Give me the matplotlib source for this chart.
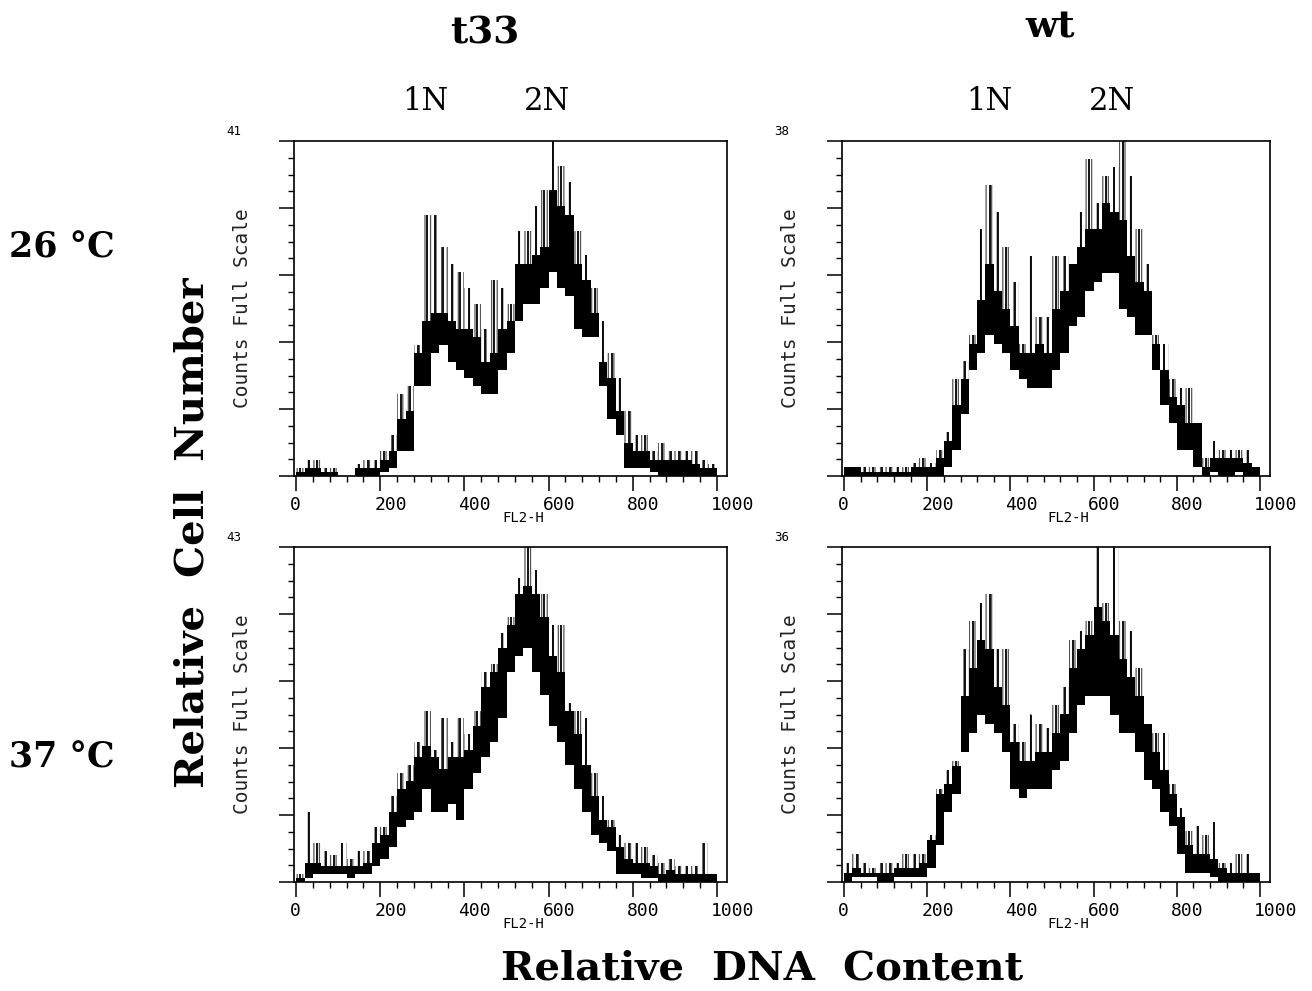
import numpy as np
import matplotlib
matplotlib.use('Agg')
import matplotlib.pyplot as plt

W, H = 1312, 991

# channel bins, 20 channels wide
bin_width = 20
bin_centers = np.arange(10, 1000, bin_width)

# each panel: low edge of the dense band, top of the band, spike tops (counts)
t33_26_lo = [0, 0, 0, 0, 0, 0, 0, 0, 0, 0, 0.5, 1, 3, 3, 11, 11, 15, 16, 14, 13,
             12, 11, 10, 10, 13, 15, 19, 21, 21, 23, 25, 23, 22, 18, 17, 17, 11, 7, 5, 1,
             1, 1, 0.5, 0, 0, 0, 0, 0, 0, 0]
t33_26_hi = [0.5, 1, 1, 0.5, 0.5, 0, 0, 1, 1, 1, 2, 3, 7, 8, 15, 19, 20, 20, 19, 18,
             18, 17, 14, 15, 18, 19, 26, 26, 27, 28, 35, 33, 32, 26, 24, 20, 14, 12, 8, 4,
             3, 3, 2, 2, 2, 2, 2, 1.5, 1, 1]
t33_26_pk = [1, 2, 2, 1, 1, 0, 0, 1.5, 2, 2, 3, 5, 10, 11, 16, 32, 32, 28, 26, 25,
             23, 21, 18, 24, 23, 21, 30, 30, 33, 35, 41, 38, 36, 30, 27, 23, 19, 15, 12, 8,
             5, 5, 3, 4, 3, 3, 3, 3, 2, 1.5]

wt_26_lo = [0, 0, 0, 0, 0, 0, 0, 0, 0, 0, 0, 0, 1, 3, 7, 12, 14, 16, 15, 14,
            12, 11, 10, 10, 10, 12, 14, 17, 18, 21, 22, 23, 23, 19, 18, 16, 16, 12, 8, 6,
            3, 3, 1, 0, 0.5, 0, 0, 0.5, 0, 0]
wt_26_hi = [1, 1, 0.5, 0.5, 0.5, 0.5, 0.5, 0.5, 1, 1, 1, 2, 4, 8, 11, 15, 20, 24, 21, 19,
            17, 14, 14, 15, 14, 19, 21, 24, 26, 28, 28, 31, 30, 29, 25, 22, 21, 15, 12, 9,
            8, 6, 6, 1, 2, 2, 2, 2, 1.5, 1]
wt_26_pk = [1, 1, 1, 1, 1, 1, 1, 1, 1.5, 2, 1.5, 3, 5, 11, 13, 16, 28, 33, 30, 26,
            22, 15, 25, 18, 18, 25, 25, 24, 30, 36, 31, 34, 35, 38, 34, 28, 24, 16, 15, 11,
            10, 10, 6, 2, 4, 3, 3, 3, 3, 1]

t33_37_lo = [0, 0.5, 1, 1, 1, 1, 0.5, 1, 1, 2, 3, 4.5, 7, 8, 9, 12, 9, 9, 10, 8,
             12, 14, 16, 18, 21, 27, 29, 30, 27, 24, 20, 18, 15, 12, 9, 6, 5, 4, 1, 1,
             1, 0.5, 0.5, 0, 0, 0, 0, 0, 0, 0]
t33_37_hi = [0.5, 2.5, 2.5, 2, 2, 2, 2, 2, 2.5, 5, 6, 9, 12, 13, 16, 17.5, 16, 14.5, 16, 16,
             17, 20, 25, 27, 30, 33, 37, 38, 37, 34, 29, 27, 22, 19, 15, 11, 8, 7, 4.5, 3,
             2.5, 2.5, 2, 1, 1.5, 1, 1, 1, 1, 1]
t33_37_pk = [1, 9, 5, 4, 3.5, 5, 3, 4, 4, 7, 7, 11, 14, 15, 18, 22, 17, 21, 18, 21,
             19, 22, 27, 28, 32, 34, 39, 43, 40, 37, 33, 33, 23, 22, 21, 14, 11, 8, 6, 5,
             5, 4.5, 3.5, 2.5, 3, 2, 2, 2, 5, 1]

wt_37_lo = [0, 0.5, 0.5, 0.5, 0, 0, 0.5, 0.5, 0.5, 0.5, 1.5, 4, 7.5, 9.5, 14, 16, 18, 17, 16, 14,
            10, 9, 10, 10, 10, 12, 13, 16, 19, 20, 20, 20, 18, 16, 16, 14, 11, 10, 7.5, 6,
            3, 1, 1, 1, 0.5, 0, 0, 0, 0, 0]
wt_37_hi = [1, 1.5, 1, 1, 1, 1, 1.5, 1.5, 1.5, 2, 4.5, 9.5, 10.5, 12.5, 20, 23, 26, 25, 21, 19,
            15, 13, 13, 14, 14, 16, 18, 23, 25, 26.5, 29.5, 28, 26.5, 24, 22, 20, 17, 14, 12, 9.5,
            7, 4, 3, 3, 2.5, 1.5, 1, 1, 1, 1]
wt_37_pk = [2, 3, 2, 1.5, 2, 2, 2, 3, 3, 3, 5, 10, 12, 13, 25, 28, 30, 31, 25, 25,
            17, 15, 18, 17, 16.5, 19, 21, 26, 27, 28, 36, 30, 36, 28, 27, 23, 17, 16, 16, 10.5,
            8, 5.5, 6, 5, 6.5, 2, 2, 3, 3, 1]

full_scale = [41, 38, 43, 36]
x_ticks = [0, 200, 400, 600, 800, 1000]

panels = [
    (t33_26_lo, t33_26_hi, t33_26_pk, full_scale[0], (294, 476, 433)),
    (wt_26_lo, wt_26_hi, wt_26_pk, full_scale[1], (842, 476, 428)),
    (t33_37_lo, t33_37_hi, t33_37_pk, full_scale[2], (294, 882, 433)),
    (wt_37_lo, wt_37_hi, wt_37_pk, full_scale[3], (842, 882, 428)),
]

mono = 'DejaVu Sans Mono'
serif = 'DejaVu Serif'
plt.rcParams['hatch.linewidth'] = 0.9

fig = plt.figure(figsize=(W / 100, H / 100), dpi=100)

for lo, hi, pk, top, (px, py, pw) in panels:
    ax = fig.add_axes([px / W, 1 - py / H, pw / W, 335 / H])
    lo, hi, pk = np.array(lo), np.array(hi), np.array(pk)
    # noisy zone above the band, then the dense band, then the tallest spikes
    ax.bar(bin_centers, pk - hi, bottom=hi, width=bin_width, fill=False,
           hatch='|||', edgecolor='#555555', linewidth=0)
    ax.bar(bin_centers, hi - lo, bottom=lo, width=bin_width, color='black', linewidth=0)
    ax.vlines(bin_centers, lo, pk, color='black', linewidth=1.3)
    ax.set_xlim(-5, 1024)
    ax.set_ylim(0, top)

    ax.set_xticks(x_ticks)
    ax.set_xticks(np.arange(0, 1001, 40), minor=True)
    ax.set_yticks(np.linspace(0, top, 6))
    ax.set_yticks(np.linspace(0, top, 21), minor=True)
    ax.tick_params(which='major', direction='out', length=10.5, width=1.1, labelbottom=False, labelleft=False)
    ax.tick_params(which='minor', direction='out', length=4.5, width=1.0)
    for s in ax.spines.values():
        s.set_linewidth(1.2)

    xt = ax.get_xaxis_transform()
    for t in x_ticks:
        ax.text(t - 14, -0.087, str(t), transform=xt, ha='left', va='center',
                family=mono, fontsize=13)
    ax.text(540, -0.125, 'FL2-H', transform=xt, ha='center', va='center',
            family=mono, fontsize=10)
    ax.text(-0.12, 0.5, 'Counts Full Scale', transform=ax.transAxes, rotation=90,
            ha='center', va='center', family=mono, fontsize=14, color='#222222')
    ax.text(-0.14, 1.027, str(top), transform=ax.transAxes, ha='center', va='center',
            family=mono, fontsize=9)


def ftext(x, y, s, **kw):
    fig.text(x / W, 1 - y / H, s, **kw)


ftext(485, 33, 't33', family=serif, fontweight='bold', fontsize=27, ha='center', va='center')
ftext(1050, 27, 'wt', family=serif, fontweight='bold', fontsize=27, ha='center', va='center')
for x, s in [(425, '1N'), (547, '2N'), (989, '1N'), (1112, '2N')]:
    ftext(x, 102, s, family=serif, fontsize=22, ha='center', va='center')
ftext(62, 247, '26 °C', family=serif, fontweight='bold', fontsize=25, ha='center', va='center')
ftext(62, 758, '37 °C', family=serif, fontweight='bold', fontsize=25, ha='center', va='center')
ftext(192, 533, 'Relative  Cell  Number', family=serif, fontweight='bold', fontsize=29,
      rotation=90, ha='center', va='center')
ftext(762, 968, 'Relative  DNA  Content', family=serif, fontweight='bold', fontsize=29,
      ha='center', va='center')

fig.savefig('out.png', dpi=100)
